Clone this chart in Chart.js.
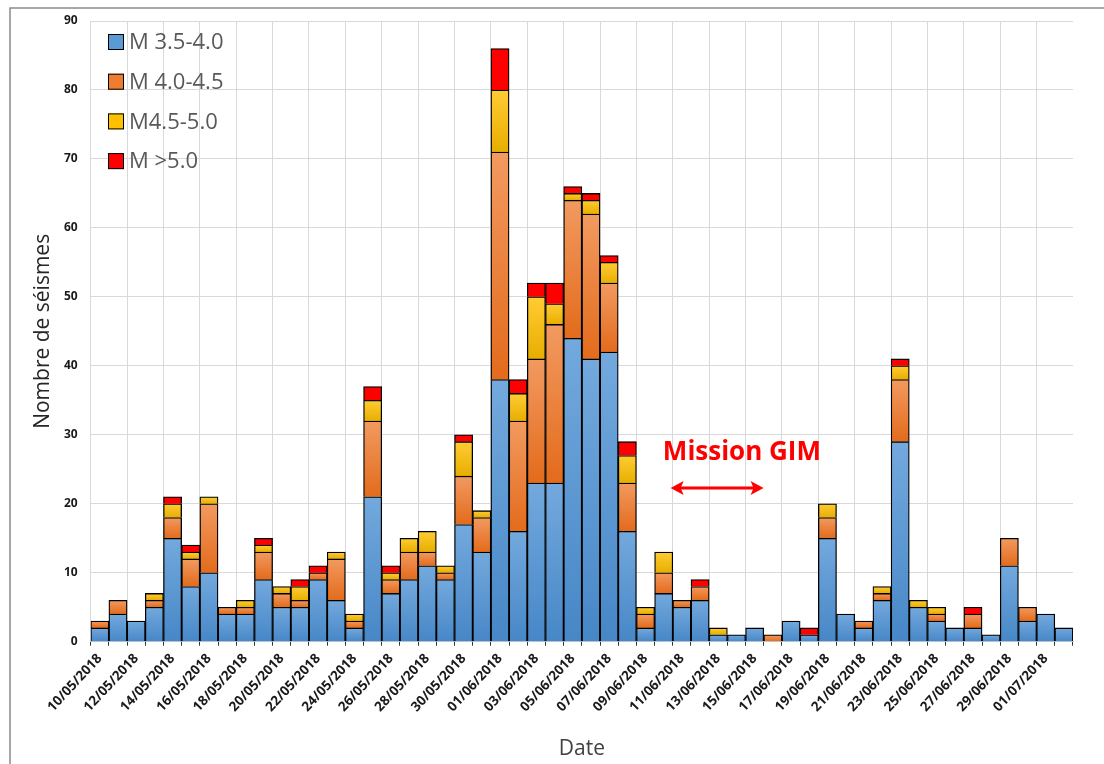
<!DOCTYPE html>
<html>
<head>
<meta charset="utf-8">
<script src="https://cdn.jsdelivr.net/npm/chart.js@4.4.1/dist/chart.umd.min.js"></script>
<style>
  html, body { margin: 0; padding: 0; background: #fff; }
  #wrap { width: 1104px; height: 764px; position: relative; }
</style>
</head>
<body>
<div id="wrap"><canvas id="myChart" width="1104" height="764"></canvas></div>
<script>
// daily categories
const dates = [
    '10/05/2018', '11/05/2018', '12/05/2018', '13/05/2018', '14/05/2018', '15/05/2018',
    '16/05/2018', '17/05/2018', '18/05/2018', '19/05/2018', '20/05/2018', '21/05/2018',
    '22/05/2018', '23/05/2018', '24/05/2018', '25/05/2018', '26/05/2018', '27/05/2018',
    '28/05/2018', '29/05/2018', '30/05/2018', '31/05/2018', '01/06/2018', '02/06/2018',
    '03/06/2018', '04/06/2018', '05/06/2018', '06/06/2018', '07/06/2018', '08/06/2018',
    '09/06/2018', '10/06/2018', '11/06/2018', '12/06/2018', '13/06/2018', '14/06/2018',
    '15/06/2018', '16/06/2018', '17/06/2018', '18/06/2018', '19/06/2018', '20/06/2018',
    '21/06/2018', '22/06/2018', '23/06/2018', '24/06/2018', '25/06/2018', '26/06/2018',
    '27/06/2018', '28/06/2018', '29/06/2018', '30/06/2018', '01/07/2018', '02/07/2018'
];

// counts per magnitude class
const m35_40 = [2, 4, 3, 5, 15, 8, 10, 4, 4, 9, 5, 5, 9, 6, 2, 21, 7, 9, 11, 9, 17, 13,
    38, 16, 23, 23, 44, 41, 42, 16, 2, 7, 5, 6, 1, 1, 2, 0, 3, 1, 15, 4, 2, 6, 29, 5, 3, 2,
    2, 1, 11, 3, 4, 2];
const m40_45 = [1, 2, 0, 1, 3, 4, 10, 1, 1, 4, 2, 1, 1, 6, 1, 11, 2, 4, 2, 1, 7, 5,
    33, 16, 18, 23, 20, 21, 10, 7, 2, 3, 1, 2, 0, 0, 0, 1, 0, 0, 3, 0, 1, 1, 9, 0, 1, 0,
    2, 0, 4, 2, 0, 0];
const m45_50 = [0, 0, 0, 1, 2, 1, 1, 0, 1, 1, 1, 2, 0, 1, 1, 3, 1, 2, 3, 1, 5, 1,
    9, 4, 9, 3, 1, 2, 3, 4, 1, 3, 0, 0, 1, 0, 0, 0, 0, 0, 2, 0, 0, 1, 2, 1, 1, 0,
    0, 0, 0, 0, 0, 0];
const m50 = [0, 0, 0, 0, 1, 1, 0, 0, 0, 1, 0, 1, 1, 0, 0, 2, 1, 0, 0, 0, 1, 0,
    6, 2, 2, 3, 1, 1, 1, 2, 0, 0, 0, 1, 0, 0, 0, 0, 0, 1, 0, 0, 0, 0, 1, 0, 0, 0,
    1, 0, 0, 0, 0, 0];

const seriesLabels = ['M 3.5-4.0', 'M 4.0-4.5', 'M4.5-5.0', 'M >5.0'];
const yTicks = [0, 10, 20, 30, 40, 50, 60, 70, 80, 90];

const series = [m35_40, m40_45, m45_50, m50];
const colors = [
    { base: '#5b9bd5', light: '#73a9dd', dark: '#4787c7' },
    { base: '#ed7d31', light: '#f29a60', dark: '#e36b1c' },
    { base: '#ffc000', light: '#ffcc33', dark: '#e8ae00' },
    { base: '#ff0000', light: '#ff0000', dark: '#ff0000' }
];

// where the "Mission GIM" note sits (category index / y value)
const note = { text: 'Mission GIM', x: 35.3, y: 26.3, arrowFrom: 31.38, arrowTo: 36.49, arrowY: 22.3 };

function segmentFill(d) {
    return function(ctx) {
        const chart = ctx.chart;
        const c = colors[d];
        if (!chart.chartArea || !chart.scales.y) return c.base;
        const i = ctx.dataIndex;
        let bottom = 0;
        for (let k = 0; k < d; k++) bottom += series[k][i];
        const top = bottom + series[d][i];
        const y0 = chart.scales.y.getPixelForValue(top);
        const y1 = chart.scales.y.getPixelForValue(bottom);
        if (!(y1 > y0)) return c.base;
        const g = chart.ctx.createLinearGradient(0, y0, 0, y1);
        g.addColorStop(0, c.light);
        g.addColorStop(1, c.dark);
        return g;
    };
}

const frame = {
    id: 'frame',
    beforeDraw(chart) {
        const ctx = chart.ctx;
        ctx.save();
        ctx.fillStyle = '#fff';
        ctx.fillRect(0, 0, chart.width, chart.height);
        ctx.strokeStyle = '#8a8a8a';
        ctx.lineWidth = 1.5;
        ctx.beginPath();
        ctx.moveTo(chart.width, 8);
        ctx.lineTo(10, 8);
        ctx.lineTo(10, chart.height);
        ctx.stroke();
        ctx.restore();
    }
};

const insideLegend = {
    id: 'insideLegend',
    afterDraw(chart) {
        const ctx = chart.ctx;
        ctx.save();
        ctx.font = '22px "Open Sans"';
        ctx.textBaseline = 'middle';
        ctx.textAlign = 'left';
        seriesLabels.forEach((lab, k) => {
            const cy = 42 + k * 39.7;
            ctx.fillStyle = colors[k].base;
            ctx.fillRect(108, cy - 8, 16, 16);
            ctx.strokeStyle = '#000';
            ctx.lineWidth = 1;
            ctx.strokeRect(108.5, cy - 7.5, 15, 15);
            ctx.fillStyle = '#595959';
            ctx.fillText(lab, 129, cy + 1);
        });
        ctx.restore();
    }
};

const missionNote = {
    id: 'missionNote',
    afterDraw(chart) {
        const ctx = chart.ctx;
        const xs = chart.scales.x, ys = chart.scales.y;
        ctx.save();
        ctx.fillStyle = '#ff0000';
        ctx.strokeStyle = '#ff0000';
        ctx.font = 'bold 26px "Open Sans"';
        ctx.textAlign = 'center';
        ctx.textBaseline = 'alphabetic';
        ctx.fillText(note.text, xs.getPixelForValue(note.x), ys.getPixelForValue(note.y));

        const x1 = xs.getPixelForValue(note.arrowFrom);
        const x2 = xs.getPixelForValue(note.arrowTo);
        const y = ys.getPixelForValue(note.arrowY);
        ctx.lineWidth = 3;
        ctx.beginPath();
        ctx.moveTo(x1 + 8, y);
        ctx.lineTo(x2 - 8, y);
        ctx.stroke();
        ctx.beginPath();
        ctx.moveTo(x1, y);
        ctx.lineTo(x1 + 13, y - 7);
        ctx.lineTo(x1 + 10, y);
        ctx.lineTo(x1 + 13, y + 7);
        ctx.closePath();
        ctx.fill();
        ctx.beginPath();
        ctx.moveTo(x2, y);
        ctx.lineTo(x2 - 13, y - 7);
        ctx.lineTo(x2 - 10, y);
        ctx.lineTo(x2 - 13, y + 7);
        ctx.closePath();
        ctx.fill();
        ctx.restore();
    }
};

const ctx = document.getElementById('myChart').getContext('2d');
window.myChart = new Chart(ctx, {
    type: 'bar',
    data: {
        labels: dates,
        datasets: series.map((vals, d) => ({
            label: seriesLabels[d],
            data: vals.map(v => v === 0 ? null : v),
            backgroundColor: segmentFill(d),
            borderColor: '#000',
            borderWidth: 1.3,
            barPercentage: 1,
            categoryPercentage: 1
        }))
    },
    options: {
        responsive: false,
        animation: false,
        layout: { padding: { left: 20, top: 21, right: 31, bottom: 0 } },
        plugins: {
            legend: { display: false },
            tooltip: { enabled: false }
        },
        scales: {
            x: {  // dates, one label every two days
                stacked: true,
                grid: {
                    offset: true,
                    color: c => c.index % 2 === 0 ? '#d9d9d9' : 'rgba(0,0,0,0)',
                    tickColor: '#333',
                    tickLength: 4
                },
                border: { display: true, color: '#bfc9d4' },
                ticks: {
                    autoSkip: false,
                    minRotation: 47,
                    maxRotation: 47,
                    padding: 5,
                    color: '#1a1a1a',
                    font: { family: 'Open Sans', size: 13.5, weight: 'bold' },
                    callback: (v, i) => i % 2 === 0 ? dates[i] : ''
                },
                title: {
                    display: true,
                    text: 'Date',
                    color: '#404040',
                    font: { family: 'Open Sans', size: 21 },
                    padding: { top: 0, bottom: 2 }
                },
                afterFit: s => { s.height = 122.3; }
            },
            y: {  // counts
                stacked: true,
                min: 0,
                max: 90,
                afterBuildTicks: s => { s.ticks = yTicks.map(v => ({ value: v })); },
                grid: { color: '#d9d9d9', drawTicks: false },
                border: { display: false },
                ticks: {
                    padding: 13,
                    color: '#1a1a1a',
                    font: { family: 'Open Sans', size: 12, weight: 'bold' }
                },
                title: {
                    display: true,
                    text: 'Nombre de séismes',
                    color: '#262626',
                    font: { family: 'Open Sans', size: 21 },
                    padding: { top: 10, bottom: 0 }
                },
                afterFit: s => { s.width = 70.7; }
            }
        }
    },
    plugins: [frame, insideLegend, missionNote]
});
</script>
</body>
</html>
